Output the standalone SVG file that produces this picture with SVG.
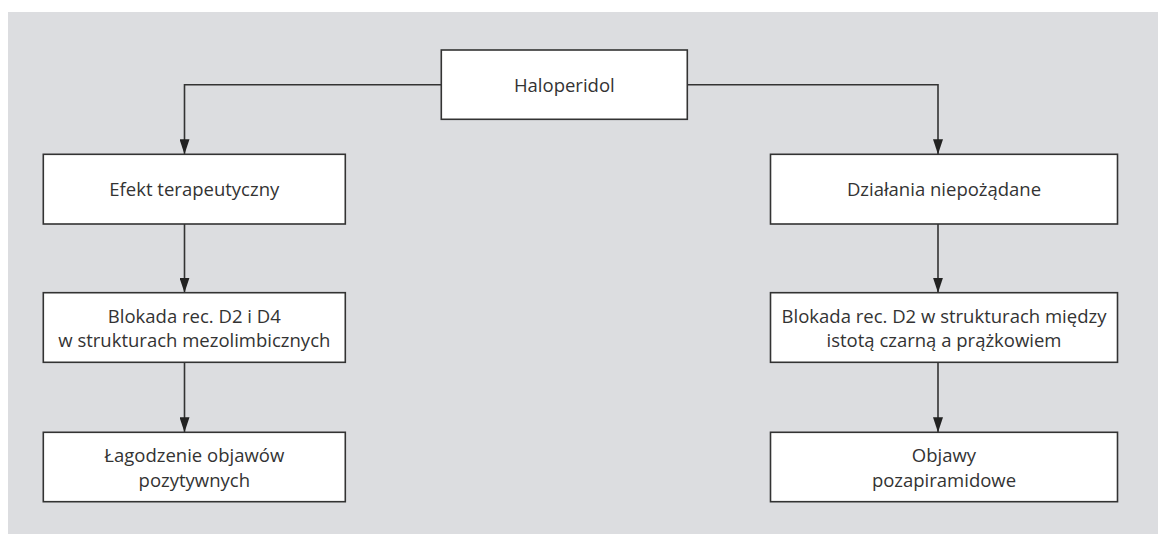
<svg xmlns="http://www.w3.org/2000/svg" width="1158" height="534" viewBox="0 0 1158 534">
<defs>
<style>
.box{fill:#ffffff;stroke:#333333;stroke-width:1.6}
.lbl{font-family:"Open Sans","Noto Sans","Liberation Sans",sans-serif;font-size:18.5px;fill:#333333;text-anchor:middle}
.con{fill:none;stroke:#333333;stroke-width:1.6}
</style>
<marker id="arr" viewBox="0 0 15 10" refX="15" refY="5" markerWidth="15" markerHeight="10" markerUnits="userSpaceOnUse" orient="auto">
<path d="M0,0 L15,5 L0,10 Z" fill="#222222"/>
</marker>
</defs>
<rect x="0" y="0" width="1158" height="534" fill="#ffffff"/>
<rect x="8" y="12" width="1150" height="522" fill="#dcdde0"/>
<g id="connectors">
<path class="con" d="M441.3,84.7 H184.5 V154.3" marker-end="url(#arr)"/>
<path class="con" d="M687.3,84.7 H938 V154.3" marker-end="url(#arr)"/>
<path class="con" d="M184.5,224 V292.7" marker-end="url(#arr)"/>
<path class="con" d="M184.5,362.3 V432.3" marker-end="url(#arr)"/>
<path class="con" d="M938,224 V292.7" marker-end="url(#arr)"/>
<path class="con" d="M938,362.3 V432.3" marker-end="url(#arr)"/>
</g>
<g id="haloperidol">
<rect class="box" x="441.3" y="50" width="246" height="69.3"/>
<text class="lbl" x="564.3" y="91.5">Haloperidol</text>
</g>
<g id="efekt">
<rect class="box" x="43.3" y="154.3" width="302" height="69.7"/>
<text class="lbl" x="194.3" y="196">Efekt terapeutyczny</text>
</g>
<g id="dzialania">
<rect class="box" x="770.5" y="154.3" width="347" height="69.7"/>
<text class="lbl" x="944" y="196">Działania niepożądane</text>
</g>
<g id="blokada-left">
<rect class="box" x="43.3" y="292.7" width="302" height="69.6"/>
<text class="lbl" x="194.3" y="322.5">Blokada rec. D2 i D4</text>
<text class="lbl" x="194.3" y="347">w strukturach mezolimbicznych</text>
</g>
<g id="blokada-right">
<rect class="box" x="770.5" y="292.7" width="347" height="69.6"/>
<text class="lbl" x="944" y="322.5">Blokada rec. D2 w strukturach między</text>
<text class="lbl" x="944" y="347">istotą czarną a prążkowiem</text>
</g>
<g id="lagodzenie">
<rect class="box" x="43.3" y="432.3" width="302" height="69.4"/>
<text class="lbl" x="194.3" y="462">Łagodzenie objawów</text>
<text class="lbl" x="194.3" y="486.5">pozytywnych</text>
</g>
<g id="objawy">
<rect class="box" x="770.5" y="432.3" width="347" height="69.4"/>
<text class="lbl" x="944" y="462">Objawy</text>
<text class="lbl" x="944" y="486.5">pozapiramidowe</text>
</g>
</svg>
